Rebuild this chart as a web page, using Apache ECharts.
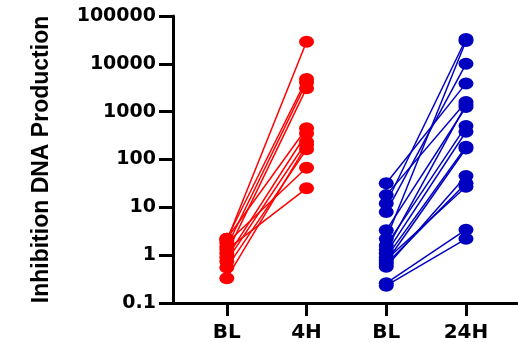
<!DOCTYPE html>
<html>
<head>
<meta charset="utf-8">
<script src="https://cdn.jsdelivr.net/npm/echarts@6/dist/echarts.min.js"></script>
<style>html,body{margin:0;padding:0;background:#fff;}#c{width:518px;height:343px;}</style>
</head>
<body>
<div id="c"></div>
<script>
var categories = ['BL', '4H', 'BL', '24H'];
var yTicks = [0.1, 1, 10, 100, 1000, 10000, 100000];
var redBL = [2.0, 2.2, 1.5, 1.1, 2.2, 0.9, 0.75, 0.55, 1.8, 1.3, 0.33];
var red4H = [29000, 4800, 4100, 3100, 450, 350, 235, 163, 67, 25, 200];
var blueBL = [0.23, 0.26, 32, 18, 12, 8, 3.3, 2.2, 1.6, 1.1, 0.9, 0.72, 0.57, 0.65, 0.8, 1.3];
var blue24H = [2.2, 3.4, 3900, 1600, 33000, 10000, 1250, 30000, 500, 380, 185, 170, 45, 32, 27, 1400];

var RED = '#ff0000', BLUE = '#0000c0';
var series = [];
function addPairs(a, b, x0, x1, color) {
  for (var i = 0; i < a.length; i++) {
    series.push({
      type: 'line',
      data: [[x0, a[i]], [x1, b[i]]],
      symbol: 'circle',
      symbolSize: [15, 12],
      lineStyle: {color: color, width: 1.5},
      itemStyle: {color: color},
      silent: true
    });
  }
}
addPairs(redBL, red4H, 1, 2, RED);
addPairs(blueBL, blue24H, 3, 4, BLUE);

var chart = echarts.init(document.getElementById('c'));
chart.setOption({
  animation: false,
  grid: {left: 173, right: 1, top: 16, bottom: 40},
  xAxis: {
    type: 'value', min: 0.325, max: 4.64,
    splitLine: {show: false},
    axisLine: {show: true, lineStyle: {color: '#000', width: 3}},
    axisTick: {show: true, length: 13, lineStyle: {color: '#000', width: 3}, customValues: [1, 2, 3, 4]},
    axisLabel: {
      customValues: [1, 2, 3, 4], margin: 20,
      fontFamily: 'DejaVu Sans', fontWeight: 'bold', fontSize: 20, color: '#000',
      formatter: function (v) { return categories[Math.round(v) - 1]; }
    }
  },
  yAxis: {
    type: 'log', logBase: 10, min: 0.1, max: 100000,
    name: 'Inhibition DNA Production', nameLocation: 'middle', nameGap: 120,
    nameTextStyle: {fontFamily: 'Liberation Sans', fontWeight: 'bold', fontSize: 23, color: '#000'},
    splitLine: {show: false},
    axisLine: {show: true, lineStyle: {color: '#000', width: 3}},
    axisTick: {show: true, length: 14, lineStyle: {color: '#000', width: 3}},
    axisLabel: {
      margin: 17, fontFamily: 'DejaVu Sans', fontWeight: 'bold', fontSize: 19, color: '#000',
      formatter: function (v) { return String(yTicks.indexOf(v) >= 0 ? v : v); }
    }
  },
  series: series
});
</script>
</body>
</html>
